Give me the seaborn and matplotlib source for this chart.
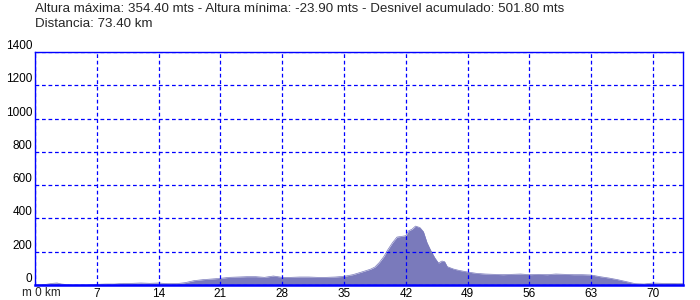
import matplotlib
matplotlib.use("Agg")
import matplotlib.pyplot as plt
import seaborn as sns
import pandas as pd

title_line1 = "Altura máxima: 354.40 mts - Altura mínima: -23.90 mts - Desnivel acumulado: 501.80 mts"
title_line2 = "Distancia: 73.40 km"

km = [0, 1, 2, 2.5, 3, 4, 5, 6, 7, 8, 9, 10, 11, 12, 13, 14, 15, 16, 17, 18, 19, 20, 21, 22, 23,
      24, 25, 26, 27, 28, 29, 30, 31, 32, 33, 34, 35, 36, 37, 38, 38.5, 39, 39.5, 40, 40.5, 41,
      41.5, 42, 42.3, 42.7, 43.1, 43.6, 44, 44.4, 44.8, 45.3, 45.7, 46.1, 46.4, 46.7, 47.4, 48,
      49, 50, 51, 52, 53, 54, 55, 56, 57, 58, 59, 60, 61, 62, 63, 64, 65, 66, 67, 68, 69, 70,
      71, 72, 73.4]
elev = [0, 2, 10, 12, 6, 0, 0, 0, 4, 6, 6, 10, 10, 12, 10, 12, 8, 8, 14, 26, 32, 36, 40, 46, 48,
        50, 50, 46, 54, 46, 46, 48, 48, 46, 46, 48, 52, 62, 78, 95, 108, 135, 170, 215, 255, 288,
        292, 296, 325, 335, 354, 345, 320, 255, 210, 162, 132, 144, 140, 110, 96, 88,
        78, 70, 66, 64, 62, 64, 66, 62, 64, 62, 66, 64, 62, 62, 60, 50, 42, 32, 20, 8, 6, 12,
        10, 10, 8]

x_ticks = [0, 7, 14, 21, 28, 35, 42, 49, 56, 63, 70]
x_labels = ["", "7", "14", "21", "28", "35", "42", "49", "56", "63", "70"]
y_ticks = [0, 200, 400, 600, 800, 1000, 1200, 1400]

df = pd.DataFrame({"km": km, "elev": elev})

sns.set_style("white")
plt.rcParams["font.family"] = ["Liberation Sans", "DejaVu Sans"]

fig = plt.figure(figsize=(7, 3), dpi=100)
ax = fig.add_axes([35 / 700, 15 / 300, 648 / 700, 233 / 300])

fill_color = "#7a7abb"
sns.lineplot(data=df, x="km", y="elev", ax=ax, color=fill_color, linewidth=0.5)
ax.fill_between(df["km"], df["elev"], 0, color=fill_color, linewidth=0)

ax.set_xlim(0, 73.4)
ax.set_ylim(0, 1400)
ax.set_xticks(x_ticks)
ax.set_xticklabels(x_labels)
ax.set_yticks(y_ticks)
ax.set_xlabel("")
ax.set_ylabel("")

ax.grid(True, color="#0000ff", linestyle=(0, (3, 2.2)), linewidth=0.9)
ax.set_axisbelow(False)
for s in ax.spines.values():
    s.set_visible(True)
    s.set_color("#0000ff")
    s.set_linewidth(1.0)
ax.spines["bottom"].set_linewidth(1.8)

ax.tick_params(axis="both", length=0, labelsize=8.5, colors="black")
ax.tick_params(axis="x", pad=2)
ax.tick_params(axis="y", pad=2)
for lab in ax.get_yticklabels():
    lab.set_verticalalignment("bottom")

ax.annotate("m 0 km", xy=(0, 0), xycoords="axes fraction", xytext=(-13, -2),
            textcoords="offset pixels", ha="left", va="top", fontsize=8.5)

fig.text(35 / 700, 1 - 12 / 300, title_line1, ha="left", va="baseline", fontsize=9.6)
fig.text(35 / 700, 1 - 27 / 300, title_line2, ha="left", va="baseline", fontsize=9.6)

fig.savefig("out.png", dpi=100)
